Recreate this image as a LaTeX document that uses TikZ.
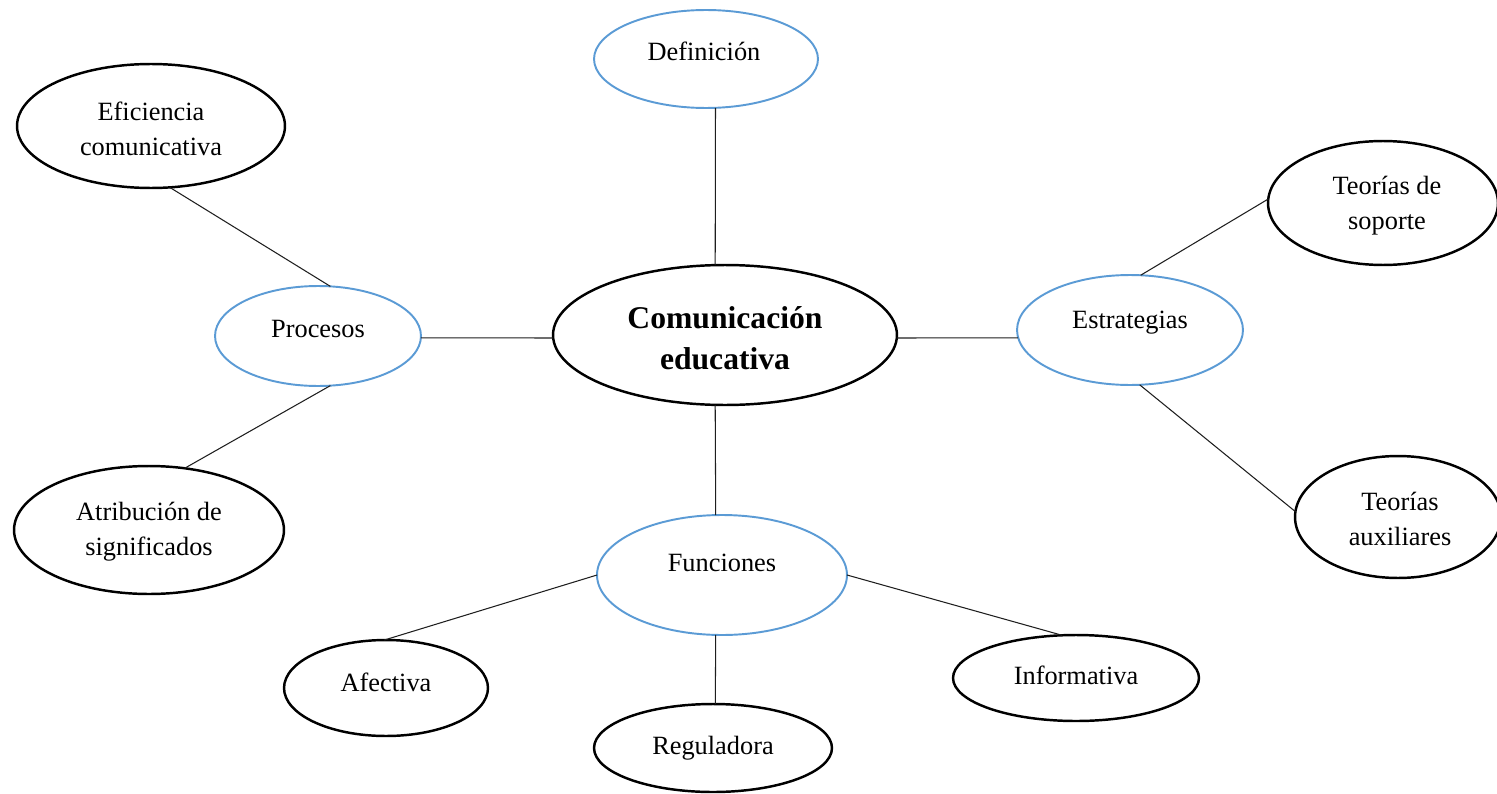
\documentclass[tikz,border=0pt]{standalone}
\usepackage{fontspec}
\setmainfont{Liberation Serif}
\usetikzlibrary{shapes.geometric}
\definecolor{ovblue}{RGB}{91,155,213}
\definecolor{linegray}{RGB}{30,30,30}
\tikzset{
  ov/.style={ellipse, draw=black, line width=1.4pt, inner sep=0pt, outer sep=0pt, fill=white},
  ovb/.style={ellipse, draw=ovblue, line width=1.1pt, inner sep=0pt, outer sep=0pt, fill=white},
  txt/.style={font=\fontsize{15}{19.8}\selectfont, align=center, inner sep=0pt},
  txtb/.style={font=\fontsize{18}{23.2}\selectfont\bfseries, align=center, inner sep=0pt},
  conn/.style={draw=linegray, line width=0.6pt}
}
\begin{document}
\begin{tikzpicture}[x=0.02cm,y=-0.02cm]
\useasboundingbox (0,0) rectangle (1497,794);
% ellipses
\node[ov, minimum width=6.88cm, minimum height=2.80cm] (cen) at (725,335) {};
\node[ovb, minimum width=4.48cm, minimum height=1.96cm] (def) at (706,59) {};
\node[ov, minimum width=5.36cm, minimum height=2.48cm] (efi) at (151,126) {};
\node[ovb, minimum width=4.12cm, minimum height=2.00cm] (pro) at (318,336) {};
\node[ov, minimum width=5.40cm, minimum height=2.56cm] (atr) at (149,530) {};
\node[ovb, minimum width=4.52cm, minimum height=2.20cm] (est) at (1130,330) {};
\node[ov, minimum width=4.60cm, minimum height=2.48cm] (sop) at (1383,203) {};
\node[ov, minimum width=4.12cm, minimum height=2.44cm] (aux) at (1398,517) {};
\node[ovb, minimum width=5.00cm, minimum height=2.40cm] (fun) at (722,575) {};
\node[ov, minimum width=4.08cm, minimum height=1.92cm] (afe) at (386,688) {};
\node[ov, minimum width=4.76cm, minimum height=1.76cm] (reg) at (713,748) {};
\node[ov, minimum width=4.92cm, minimum height=1.72cm] (inf) at (1076,678) {};
% texts
\node[txtb] (cenT) at (725,338) {Comunicación\\educativa};
\node[txt, anchor=base] (defT) at (704,61) {Definición};
\node[txt] (efiT) at (151,129) {Eficiencia\\comunicativa};
\node[txt, anchor=base] (proT) at (318,337) {Procesos};
\node[txt] (atrT) at (149,532) {Atribución de\\significados};
\node[txt, anchor=base] (estT) at (1130,328) {Estrategias};
\node[txt] (sopT) at (1387,206) {Teorías de\\soporte};
\node[txt] (auxT) at (1400,519) {Teorías\\auxiliares};
\node[txt, anchor=base] (funT) at (722,571) {Funciones};
\node[txt, anchor=base] (afeT) at (386,691) {Afectiva};
\node[txt, anchor=base] (regT) at (713,754) {Reguladora};
\node[txt, anchor=base] (infT) at (1076,684) {Informativa};
% connectors
\draw[conn] (def.-79.6) -- (cen.98);
\draw[conn] (pro.-1.7) -- (cen.181.3);
\draw[conn] (cen.-1.3) -- (est.184.6);
\draw[conn] (cen.-98) -- (fun.96.7);
\draw[conn] (efi.-73) -- (pro.76.5);
\draw[conn] (pro.-76.5) -- (atr.60.6);
\draw[conn] (est.79.5) -- (sop.178.5);
\draw[conn] (est.-80) -- (aux.177.8);
\draw[conn] (fun.180.5) -- (afe.92.4);
\draw[conn] (fun.-0.5) -- (inf.108);
\draw[conn] (fun.-96.5) -- (reg.87.3);
\end{tikzpicture}
\end{document}
